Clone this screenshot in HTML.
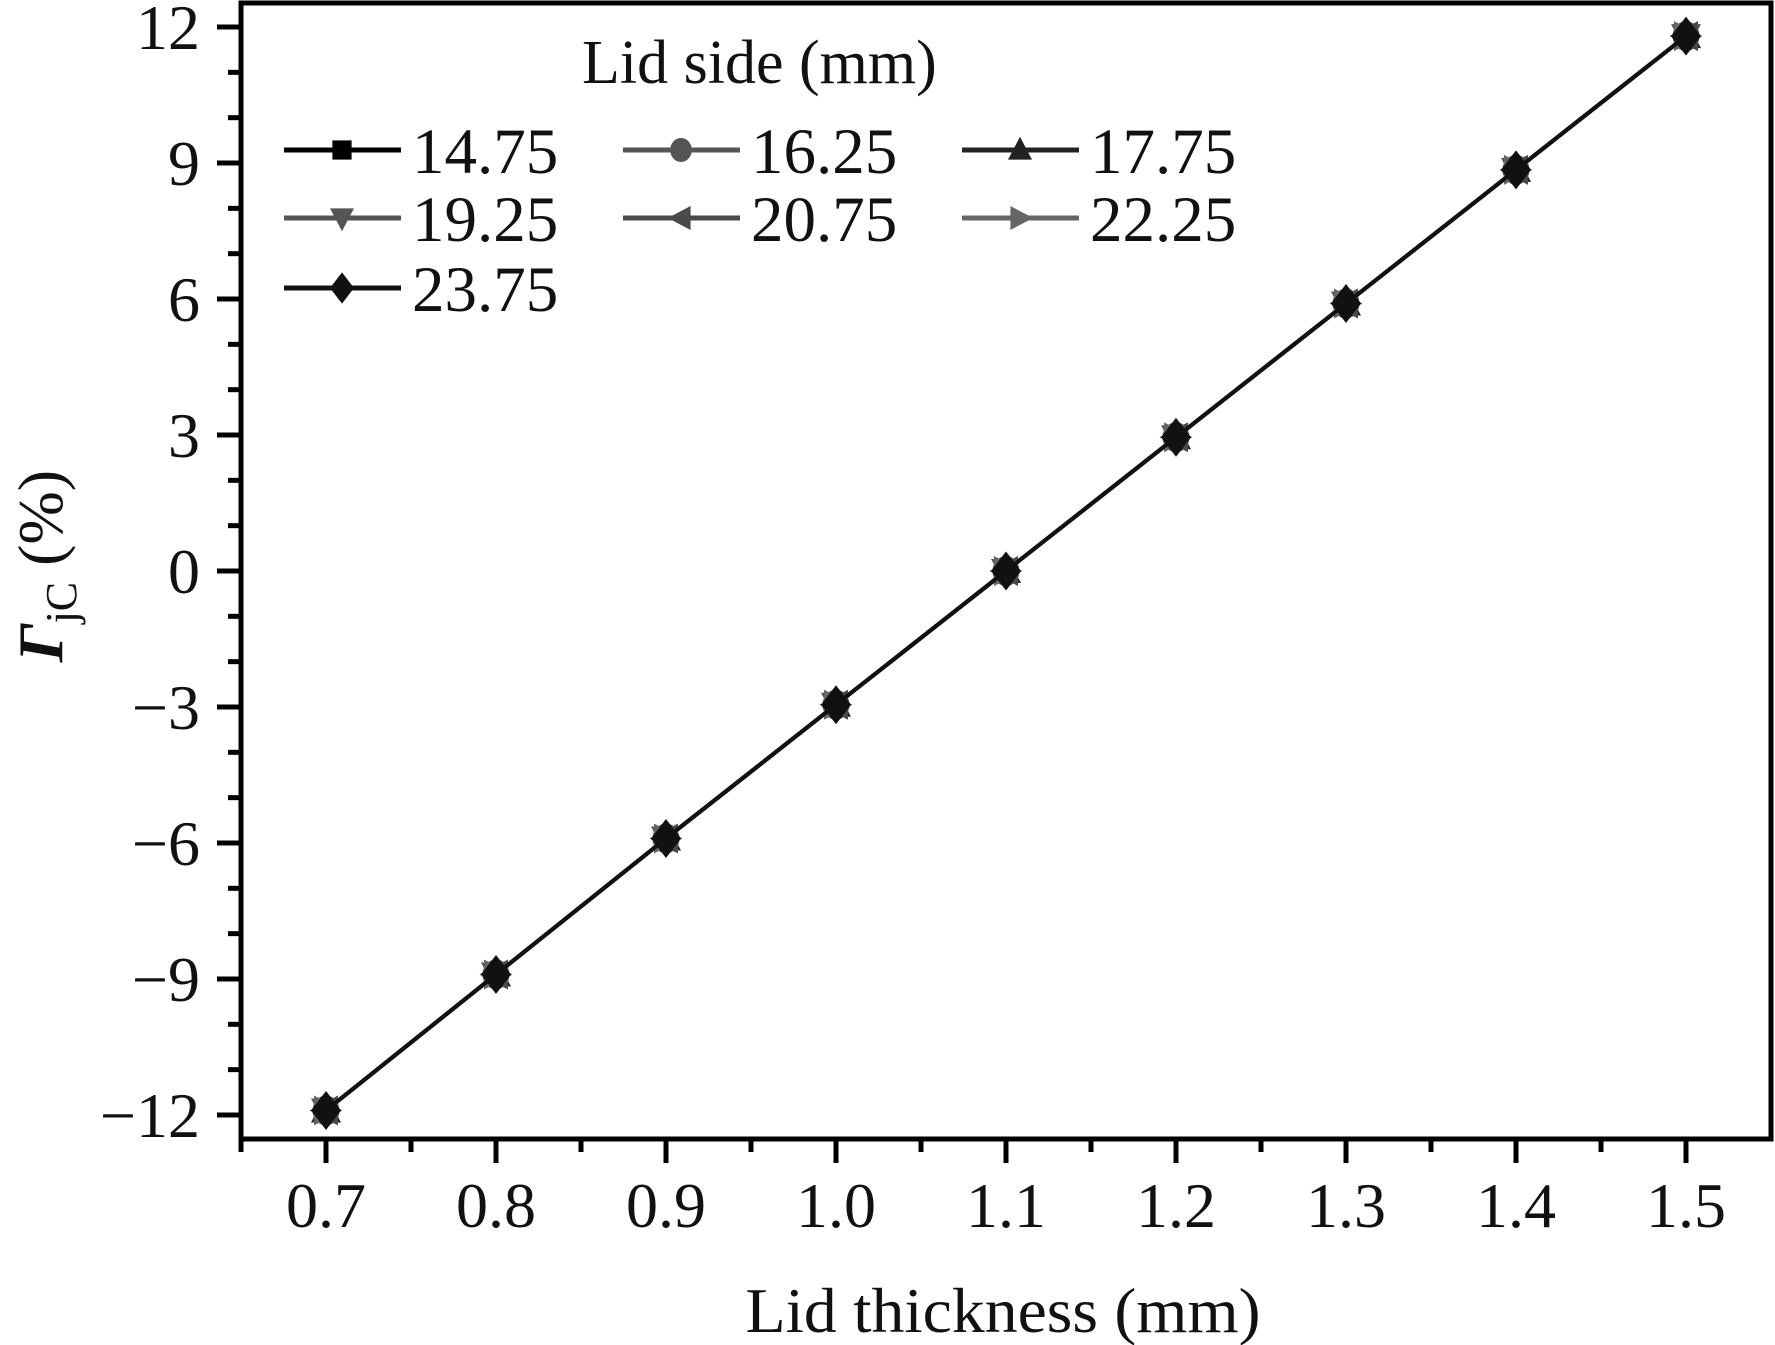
<!DOCTYPE html>
<html><head><meta charset="utf-8">
<style>
html,body{margin:0;padding:0;background:#fff;}
svg{display:block;}
text{font-family:"Liberation Serif",serif;fill:#111;}
</style></head>
<body>
<svg id="chart" width="1775" height="1345" viewBox="0 0 1775 1345" xmlns="http://www.w3.org/2000/svg">
<g id="grid"></g>
</svg>
<script>
const xValues = [0.7, 0.8, 0.9, 1.0, 1.1, 1.2, 1.3, 1.4, 1.5];
const s1475 = [-11.9, -8.9, -5.9, -2.95, 0, 2.95, 5.9, 8.85, 11.8];
const s1625 = [-11.9, -8.9, -5.9, -2.95, 0, 2.95, 5.9, 8.85, 11.8];
const s1775 = [-11.9, -8.9, -5.9, -2.95, 0, 2.95, 5.9, 8.85, 11.8];
const s1925 = [-11.9, -8.9, -5.9, -2.95, 0, 2.95, 5.9, 8.85, 11.8];
const s2075 = [-11.9, -8.9, -5.9, -2.95, 0, 2.95, 5.9, 8.85, 11.8];
const s2225 = [-11.9, -8.9, -5.9, -2.95, 0, 2.95, 5.9, 8.85, 11.8];
const s2375 = [-11.9, -8.9, -5.9, -2.95, 0, 2.95, 5.9, 8.85, 11.8];
const seriesNames = ["14.75","16.25","17.75","19.25","20.75","22.25","23.75"];
const xTickLabels = ["0.7","0.8","0.9","1.0","1.1","1.2","1.3","1.4","1.5"];
const yTickValues = [-12,-9,-6,-3,0,3,6,9,12];
const yTickLabels = ["\u221212","\u22129","\u22126","\u22123","0","3","6","9","12"];

const NS="http://www.w3.org/2000/svg";
const svg=document.getElementById('chart');
const L=241,R=1771,T=3,B=1139;
const xMin=0.65,xMax=1.55,yMin=-12.53,yMax=12.53;
function xs(v){return L+(v-xMin)/(xMax-xMin)*(R-L);}
function ys(v){return B-(v-yMin)/(yMax-yMin)*(B-T);}
function mk(tag,attrs,parent){const e=document.createElementNS(NS,tag);for(const k in attrs)e.setAttribute(k,attrs[k]);(parent||svg).appendChild(e);return e;}

const styles=[
 {c:"#000",m:"square"},{c:"#555",m:"circle"},{c:"#222",m:"up"},
 {c:"#555",m:"down"},{c:"#4a4a4a",m:"left"},{c:"#666",m:"right"},{c:"#111",m:"diamond"}];
const allSeries=[s1475,s1625,s1775,s1925,s2075,s2225,s2375];

function marker(g,type,x,y,s,color){
  let e;
  if(type==="square") e=mk('rect',{x:x-s*0.8,y:y-s*0.8,width:s*1.6,height:s*1.6},g);
  else if(type==="circle") e=mk('ellipse',{cx:x,cy:y,rx:s*0.9,ry:s},g);
  else {
    let p;
    if(type==="up") p=[[x,y-s*1.1],[x+s,y+s*0.8],[x-s,y+s*0.8]];
    else if(type==="down") p=[[x,y+s*1.1],[x+s,y-s*0.8],[x-s,y-s*0.8]];
    else if(type==="left") p=[[x-s*1.1,y],[x+s*0.8,y-s],[x+s*0.8,y+s]];
    else if(type==="right") p=[[x+s*1.1,y],[x-s*0.8,y-s],[x-s*0.8,y+s]];
    else p=[[x,y-s*1.3],[x+s,y],[x,y+s*1.3],[x-s,y]];
    e=mk('polygon',{points:p.map(q=>q.join(',')).join(' ')},g);
  }
  e.setAttribute('fill',color);
  return e;
}

// series
allSeries.forEach((arr,i)=>{
  const g=mk('g',{});
  
  
  const pts=arr.map((v,j)=>xs(xValues[j])+','+ys(v)).join(' ');
  const pl=mk('polyline',{points:pts,fill:'none',stroke:styles[i].c,'stroke-width':4},g);
  
  
  arr.forEach((v,j)=>{
    const m=marker(g,styles[i].m,xs(xValues[j]),ys(v),15,styles[i].c);
    
    
  });
});

// axes frame
const frame=mk('rect',{x:L,y:T,width:R-L,height:B-T,fill:'none',stroke:'#000','stroke-width':5});



// y ticks
for(let v=-12;v<=12;v++){
  const major=(v%3===0);
  const t=mk('line',{x1:L,x2:L-(major?24:13),y1:ys(v),y2:ys(v),stroke:'#000','stroke-width':5});
  
  
}
yTickValues.forEach((v,i)=>{
  const t=mk('text',{x:200,y:ys(v)+22,'text-anchor':'end','font-size':64});
  t.textContent=yTickLabels[i];
  
  
});
// x ticks
for(let k=0;k<=17;k++){
  const v=0.65+k*0.05;
  const major=(k%2===1);
  const t=mk('line',{x1:xs(v),x2:xs(v),y1:B,y2:B+(major?24:13),stroke:'#000','stroke-width':5});
  
  
}
xValues.forEach((v,i)=>{
  const t=mk('text',{x:xs(v),y:1227,'text-anchor':'middle','font-size':64});
  t.textContent=xTickLabels[i];
  
  
});

// axis titles
const xt=mk('text',{x:1003,y:1332,'text-anchor':'middle','font-size':64,textLength:515,lengthAdjust:'spacingAndGlyphs'});
xt.textContent='Lid thickness (mm)';



const yt=mk('text',{transform:'translate(62,566) rotate(-90)','text-anchor':'middle','font-size':64});


yt.innerHTML='<tspan font-style="italic" font-weight="bold">\u0393</tspan><tspan font-size="44" dy="14">jC</tspan><tspan dy="-14"> (%)</tspan>';

// legend
const lg=mk('g',{});


const lt=mk('text',{x:582,y:83,'font-size':62},lg);
lt.textContent='Lid side (mm)';


const colX=[284,623,962], rowY=[150,218,288];
seriesNames.forEach((n,i)=>{
  const cx=colX[i%3], cy=rowY[Math.floor(i/3)];
  const e=mk('g',{},lg);
  
  
  mk('line',{x1:cx,x2:cx+117,y1:cy,y2:cy,stroke:styles[i].c,'stroke-width':5},e);
  marker(e,styles[i].m,cx+58,cy,12,styles[i].c);
  const t=mk('text',{x:cx+128,y:cy+23,'font-size':65},e);
  t.textContent=n;
});
</script>
</body></html>
